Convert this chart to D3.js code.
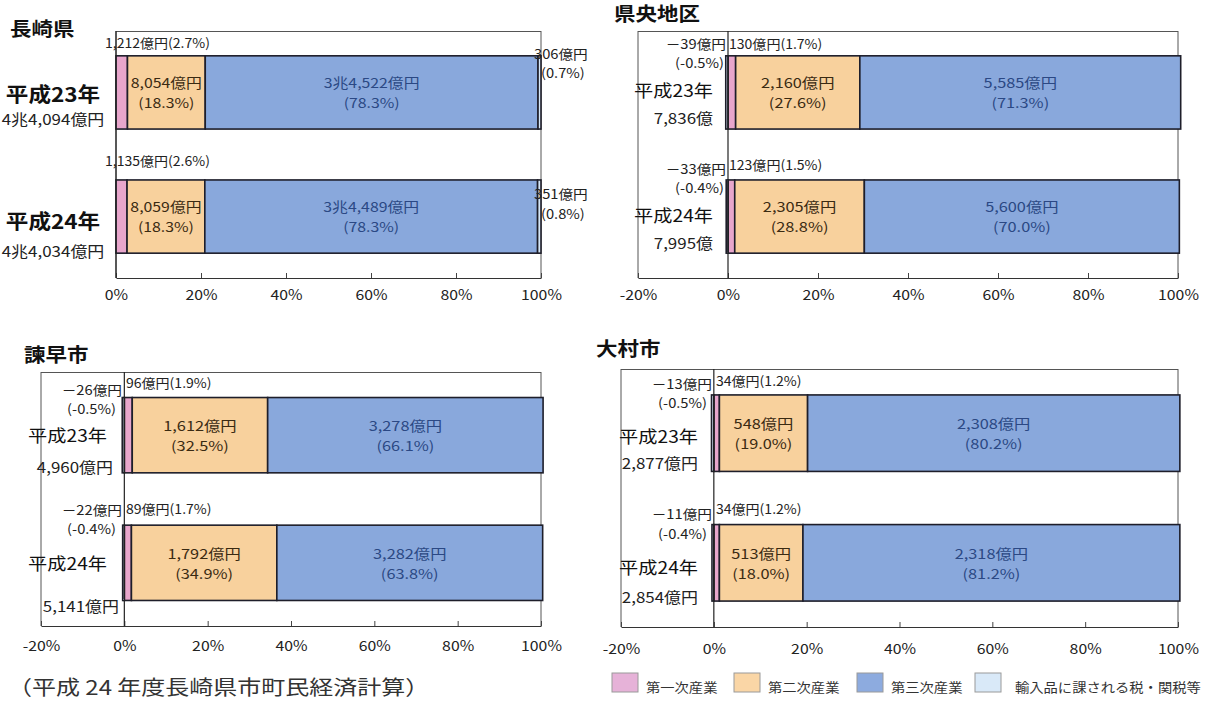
<!DOCTYPE html>
<html>
<head>
<meta charset="utf-8">
<script src="https://cdn.jsdelivr.net/npm/d3@7"></script>
<style>
  body { margin: 0; background: #fff; }
  svg { display: block; }
  text { font-family: "Noto Sans CJK JP", "Noto Sans", sans-serif; }
</style>
</head>
<body>
<svg id="chart" width="1209" height="702"></svg>
<script>
// ---- data -------------------------------------------------------------
const regions = ["長崎県", "県央地区", "諫早市", "大村市"];
const years = ["平成23年", "平成24年"];
const seriesNames = ["第一次産業", "第二次産業", "第三次産業", "輸入品に課される税・関税等"];

// 億円, [平成23年, 平成24年] per region
const primaryValues   = [[1212, 1135], [130, 123], [96, 89], [34, 34]];
const secondaryValues = [[8054, 8059], [2160, 2305], [1612, 1792], [548, 513]];
const tertiaryValues  = [[34522, 34489], [5585, 5600], [3278, 3282], [2308, 2318]];
const importTaxValues = [[306, 351], [-39, -33], [-26, -22], [-13, -11]];

// composition ratio (%)
const primaryPct   = [[2.7, 2.6], [1.7, 1.5], [1.9, 1.7], [1.2, 1.2]];
const secondaryPct = [[18.3, 18.3], [27.6, 28.8], [32.5, 34.9], [19.0, 18.0]];
const tertiaryPct  = [[78.3, 78.3], [71.3, 70.0], [66.1, 63.8], [80.2, 81.2]];
const importTaxPct = [[0.7, 0.8], [-0.5, -0.4], [-0.5, -0.4], [-0.5, -0.4]];

const totalLabels = [["4兆4,094億円", "4兆4,034億円"], ["7,836億", "7,995億"],
                     ["4,960億円", "5,141億円"], ["2,877億円", "2,854億円"]];

const xDomains = [[0, 100], [-20, 100], [-20, 100], [-20, 100]];
const tickValues = [[0, 20, 40, 60, 80, 100],
                    [-20, 0, 20, 40, 60, 80, 100],
                    [-20, 0, 20, 40, 60, 80, 100],
                    [-20, 0, 20, 40, 60, 80, 100]];
const sourceNote = "（平成 24 年度長崎県市町民経済計算）";

// ---- styling ----------------------------------------------------------
const keys = ["primary", "secondary", "tertiary", "importTax"];
const fills = { primary: "#e8a6cc", secondary: "#f8d19d", tertiary: "#89a8dc", importTax: "#d6e7f7" };
const legendFills = ["#e6b2d8", "#fad6a6", "#8dabdf", "#d9e9f8"];
const inBarText = { secondary: "#3a2a12", tertiary: "#2b4884" };
const SX = 1.13; // horizontal stretch of lettering

// panel geometry
const layout = [
  { titleX: 10, titleY: 28, x0: 116, x1: 541, top: 31, axisY: 278, tickY: 294, inSize: 13.2,
    yearX: 53, yearAnchor: "middle", yearSize: 20, yearWeight: 700, yearY: [93, 220],
    totalX: [53, 53], totalAnchor: "middle", totalSize: 15, totalY: [118, 250],
    aboveX: [105, 105], aboveY: [42, 160],
    rightValX: 534, rightPctX: 541, rightValY: [53, 193], rightPctY: [72, 213] },
  { titleX: 614, titleY: 13, x0: 638, x1: 1178, top: 31, axisY: 278, tickY: 294, inSize: 13.6,
    yearX: 713, yearAnchor: "end", yearSize: 17, yearWeight: 400, yearY: [90, 215],
    totalX: [713, 713], totalAnchor: "end", totalSize: 15, totalY: [117, 242],
    aboveX: [729, 729], aboveY: [43, 164],
    negValX: 726, negPctX: 724, negValY: [43, 168], negPctY: [62, 187] },
  { titleX: 24, titleY: 354, x0: 41, x1: 541, top: 372, axisY: 626, tickY: 645, inSize: 13.6,
    yearX: 107, yearAnchor: "end", yearSize: 17, yearWeight: 400, yearY: [435, 563],
    totalX: [113, 119], totalAnchor: "end", totalSize: 15, totalY: [466, 605],
    aboveX: [126, 126], aboveY: [382, 508],
    negValX: 122, negPctX: 116, negValY: [389, 509], negPctY: [408, 528] },
  { titleX: 596, titleY: 348, x0: 621, x1: 1178, top: 369, axisY: 627, tickY: 648, inSize: 13.6,
    yearX: 698, yearAnchor: "end", yearSize: 17, yearWeight: 400, yearY: [436, 567],
    totalX: [698, 698], totalAnchor: "end", totalSize: 15, totalY: [462, 596],
    aboveX: [716, 716], aboveY: [380, 508],
    negValX: 712, negPctX: 707, negValY: [383, 513], negPctY: [402, 533] }
];

// ---- helpers ------------------------------------------------------------
const fmtNum = d3.format(",");
function oku(v) {
  const a = Math.abs(v);
  const s = a >= 10000 ? `${Math.floor(a / 10000)}兆${fmtNum(a % 10000)}` : fmtNum(a);
  return (v < 0 ? "－" : "") + s + "億円";
}
function pctLabel(p) {
  return `(${p < 0 ? "-" : ""}${Math.abs(p).toFixed(1)}%)`;
}
function label(g, x, y, s, o = {}) {
  return g.append("text")
    .attr("transform", `translate(${x},${y}) scale(${o.sx || SX},1)`)
    .attr("text-anchor", o.anchor || "start")
    .attr("dominant-baseline", "central")
    .attr("font-size", o.size || 13)
    .attr("font-weight", o.weight || 400)
    .attr("fill", o.fill || "#222")
    .text(s);
}

const svg = d3.select("#chart");
const stack = d3.stack().keys(keys).offset(d3.stackOffsetDiverging);

regions.forEach((name, i) => {
  const L = layout[i];
  const g = svg.append("g");
  const x = d3.scaleLinear().domain(xDomains[i]).range([L.x0, L.x1]);
  const y = d3.scaleBand().domain(years).range([L.top, L.axisY])
    .paddingInner(0.41).paddingOuter(0.2);

  const rows = years.map((yr, j) => ({
    year: yr,
    primary: primaryPct[i][j],
    secondary: secondaryPct[i][j],
    tertiary: tertiaryPct[i][j],
    importTax: importTaxPct[i][j]
  }));
  const layers = stack(rows);

  // title
  label(g, L.titleX, L.titleY, name, { size: 19, weight: 700, fill: "#111" });

  // frame
  const frame = g.append("g").attr("fill", "none").attr("stroke", "#555").attr("stroke-width", 1);
  frame.append("line").attr("x1", x.range()[0]).attr("x2", x.range()[1])
    .attr("y1", L.top + 0.5).attr("y2", L.top + 0.5);
  frame.append("line").attr("x1", x.range()[0]).attr("x2", x.range()[0])
    .attr("y1", L.top).attr("y2", L.axisY);
  frame.append("line").attr("x1", x.range()[1]).attr("x2", x.range()[1])
    .attr("y1", L.top).attr("y2", L.axisY);

  // x axis with inward ticks
  const axis = d3.axisBottom(x).tickValues(tickValues[i])
    .tickSizeInner(-5).tickSizeOuter(0).tickPadding(12)
    .tickFormat(d => d + "%");
  const ax = g.append("g").attr("transform", `translate(0,${L.axisY})`).call(axis);
  ax.select(".domain").attr("stroke", "#333").attr("stroke-width", 1.2);
  ax.selectAll(".tick line").attr("stroke", "#444");
  ax.selectAll(".tick text")
    .attr("font-size", 14).attr("fill", "#222")
    .attr("font-family", '"Noto Sans CJK JP", "Noto Sans", sans-serif')
    .attr("y", L.tickY - L.axisY).attr("dy", null)
    .attr("dominant-baseline", "central")
    .attr("transform", `scale(${SX},1)`);

  // stacked bars
  layers.forEach(layer => {
    g.append("g").selectAll("rect").data(layer).join("rect")
      .attr("x", d => x(Math.min(d[0], d[1])))
      .attr("width", d => Math.abs(x(d[1]) - x(d[0])))
      .attr("y", d => y(d.data.year))
      .attr("height", y.bandwidth())
      .attr("fill", fills[layer.key])
      .attr("stroke", "#1e1e2a")
      .attr("stroke-width", 1.6);
  });

  // zero line
  g.append("line").attr("x1", x(0)).attr("x2", x(0))
    .attr("y1", L.top).attr("y2", L.axisY)
    .attr("stroke", "#222").attr("stroke-width", 1.2);

  years.forEach((yr, j) => {
    const by = y(yr), bh = y.bandwidth(), cy = by + bh / 2;

    // labels inside the 2nd / 3rd industry segments
    [["secondary", secondaryValues, secondaryPct], ["tertiary", tertiaryValues, tertiaryPct]]
      .forEach(([key, vals, pcts]) => {
        const seg = layers[keys.indexOf(key)][j];
        const cx = (x(seg[0]) + x(seg[1])) / 2;
        label(g, cx, cy - 10, oku(vals[i][j]), { anchor: "middle", size: L.inSize, sx: 1.2, fill: inBarText[key] });
        label(g, cx, cy + 10, pctLabel(pcts[i][j]), { anchor: "middle", size: L.inSize, sx: 1.2, fill: inBarText[key] });
      });

    // primary industry above the bar
    label(g, L.aboveX[j], L.aboveY[j],
      oku(primaryValues[i][j]) + pctLabel(primaryPct[i][j]), { size: 13, sx: 1.08 });

    // import tax: right side when positive, left of zero when negative
    if (importTaxValues[i][j] >= 0) {
      label(g, L.rightValX, L.rightValY[j], oku(importTaxValues[i][j]), { size: 13 });
      label(g, L.rightPctX, L.rightPctY[j], pctLabel(importTaxPct[i][j]), { size: 13 });
    } else {
      label(g, L.negValX, L.negValY[j], oku(importTaxValues[i][j]), { anchor: "end", size: 13 });
      label(g, L.negPctX, L.negPctY[j], pctLabel(importTaxPct[i][j]), { anchor: "end", size: 13 });
    }

    // year and total
    label(g, L.yearX, L.yearY[j], yr,
      { anchor: L.yearAnchor, size: L.yearSize, weight: L.yearWeight, fill: "#111" });
    label(g, L.totalX[j], L.totalY[j], totalLabels[i][j],
      { anchor: L.totalAnchor, size: L.totalSize });
  });
});

// legend
const legendX = [612, 734, 857, 975];
const lg = svg.append("g");
seriesNames.forEach((s, k) => {
  lg.append("rect").attr("x", legendX[k]).attr("y", 673).attr("width", 26).attr("height", 19)
    .attr("fill", legendFills[k]).attr("stroke", "#9a9a9a").attr("stroke-width", 1);
  label(lg, legendX[k] + (k === 3 ? 40 : 34), 686, s, { size: 13, sx: 1.1, fill: "#333" });
});

// source
label(svg, 8, 686, sourceNote, { size: 20, sx: 1.2, fill: "#333" });
</script>
</body>
</html>
